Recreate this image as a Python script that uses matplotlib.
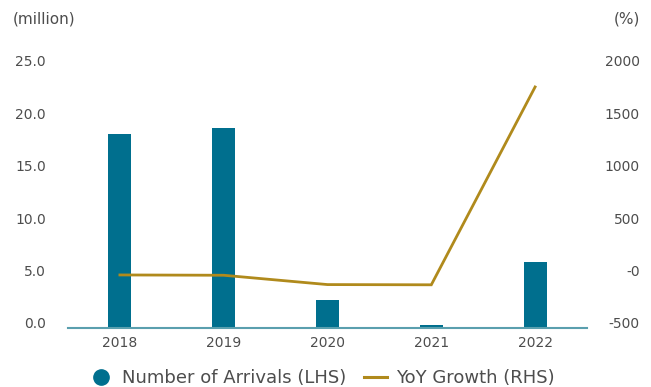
import matplotlib
matplotlib.use("Agg")
import matplotlib.pyplot as plt
from matplotlib.lines import Line2D
from matplotlib.transforms import ScaledTranslation

years = ["2018", "2019", "2020", "2021", "2022"]
arrivals = [18.5, 19.1, 2.7, 0.33, 6.3]          # million
yoy_growth = [6.2, 3.3, -85.7, -87.8, 1800.0]     # %
left_ticks = [0, 5, 10, 15, 20, 25]
left_labels = ["0.0", "5.0", "10.0", "15.0", "20.0", "25.0"]
right_ticks = [-500, 0, 500, 1000, 1500, 2000]
right_labels = ["-500", "-0", "500", "1000", "1500", "2000"]

BAR = "#006f8e"
LINE = "#b08a1c"
TEXT = "#4d4d4d"
AXIS = "#5a9fae"

plt.rcParams["font.family"] = ["DejaVu Sans"]

fig = plt.figure(figsize=(6.51, 3.87), dpi=100)
ax = fig.add_axes([68 / 651, 1 - 328 / 387, (587 - 68) / 651, 262 / 387])
ax2 = ax.twinx()

x = list(range(len(years)))
ax.bar(x, arrivals, width=0.22, color=BAR, zorder=2)
ax2.plot(x, yoy_growth, color=LINE, lw=2.0, solid_joinstyle="miter", zorder=3)

ax.set_xlim(-0.5, len(years) - 0.5)
ax.set_ylim(0, 25)
ax2.set_ylim(-500, 2000)

ax.set_xticks(x)
ax.set_xticklabels(years, fontsize=10, color=TEXT)
ax.tick_params(axis="x", length=0, pad=6)

ax.set_yticks(left_ticks)
ax.set_yticklabels(left_labels, fontsize=10, color=TEXT)
ax.tick_params(axis="y", length=0, pad=16)

ax2.set_yticks(right_ticks)
ax2.set_yticklabels(right_labels, fontsize=10, color=TEXT, ha="right")
ax2.tick_params(axis="y", length=0, pad=38)

# lift value labels slightly above their gridline positions
shift = ScaledTranslation(0, 0.05, fig.dpi_scale_trans)
for lab in ax.get_yticklabels() + ax2.get_yticklabels():
    lab.set_transform(lab.get_transform() + shift)

for a in (ax, ax2):
    for s in ("top", "left", "right", "bottom"):
        a.spines[s].set_visible(False)
ax.spines["bottom"].set_visible(True)
ax.spines["bottom"].set_color(AXIS)
ax.spines["bottom"].set_linewidth(1.5)

fig.text(13 / 651, 1 - 19 / 387, "(million)", fontsize=11, color=TEXT,
         ha="left", va="center")
fig.text(640 / 651, 1 - 19 / 387, "(%)", fontsize=11, color=TEXT,
         ha="right", va="center")

handles = [
    Line2D([], [], marker="o", linestyle="none", markersize=11,
           markerfacecolor=BAR, markeredgecolor=BAR),
    Line2D([], [], color=LINE, lw=2.2),
]
fig.legend(handles, ["Number of Arrivals (LHS)", "YoY Growth (RHS)"],
           loc="center", bbox_to_anchor=(322 / 651, 1 - 378 / 387),
           ncol=2, frameon=False, fontsize=13, labelcolor=TEXT,
           handlelength=1.3, handletextpad=0.5, columnspacing=1.0)

fig.savefig("out.png", dpi=100)
